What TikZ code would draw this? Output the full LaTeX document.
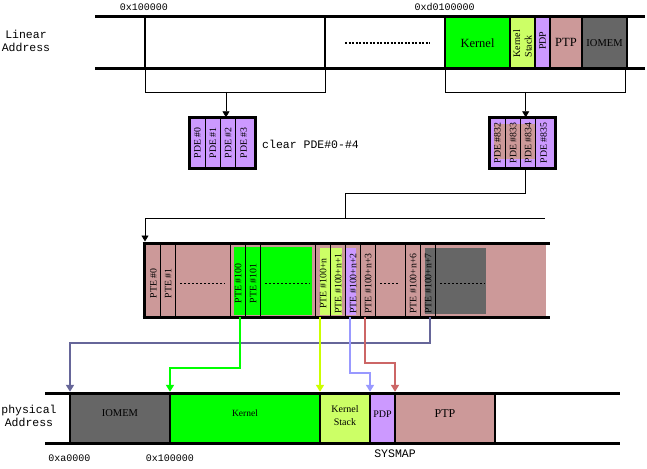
\documentclass[tikz,border=0pt]{standalone}
\usepackage{fontspec}
\setmainfont{Liberation Serif}
\newfontfamily\monofnt{Liberation Mono}
\usetikzlibrary{arrows.meta,calc}
\definecolor{kgreen}{HTML}{00FF00}
\definecolor{kstack}{HTML}{CCFF66}
\definecolor{pdpc}{HTML}{CC99FF}
\definecolor{ptpc}{HTML}{CC9999}
\definecolor{iomc}{HTML}{666666}
\definecolor{arblue}{HTML}{666699}
\definecolor{arlblue}{HTML}{9999FF}
\definecolor{arred}{HTML}{CC6666}
\definecolor{aryel}{HTML}{CCFF00}
\definecolor{argreen}{HTML}{00FF00}
\newcommand{\fs}[1]{\fontsize{#1}{#1}\selectfont}
\begin{document}
\begin{tikzpicture}[x=1pt,y=-1pt,
  blk/.style={draw, line width=2.5pt, inner sep=0pt, outer sep=0pt, anchor=north west},
  bar/.style={line width=3pt},
  pcell/.style={draw, line width=0.8pt, inner sep=0pt, outer sep=0pt},
  plab/.style={rotate=90, inner sep=0pt, font=\fs{9.8}},
  mono/.style={font=\monofnt\fontsize{11.5}{13.5}\selectfont, inner sep=0pt, align=center},
  hex/.style={font=\monofnt\fs{10}, inner sep=0pt},
  conn/.style={line width=0.8pt},
  tip/.style={-{Triangle[width=7pt,length=6pt]}},
  carr/.style={line width=2pt, -{Triangle[width=8pt,length=7pt]}, shorten >=1.2pt},
  dots/.style={line width=1pt, dash pattern=on 2pt off 2pt},
]
\useasboundingbox (0,0) rectangle (647,468);

% ---------------- Linear address bar ----------------
\node[blk, fill=white, minimum width=180, minimum height=51.5] (b100) at (145,17) {};
\node[blk, fill=kgreen, minimum width=65, minimum height=51.5] (tk) at (445,17) {};
\node[blk, fill=kstack, minimum width=25, minimum height=51.5] (tks) at (510,17) {};
\node[blk, fill=pdpc, minimum width=15, minimum height=51.5] (tpdp) at (535,17) {};
\node[blk, fill=ptpc, minimum width=32, minimum height=51.5] (tptp) at (550,17) {};
\node[blk, fill=iomc, minimum width=45, minimum height=51.5] (tio) at (582,17) {};
\node[inner sep=0pt, font=\fs{12.5}] (tkl) at (tk.center) {Kernel};
\node[inner sep=0pt, rotate=90, align=left, font=\fontsize{10}{11.5}\selectfont] (tksl) at ($(tks.center)+(0,1)$) {Kernel\\Stack};
\node[inner sep=0pt, rotate=90, font=\fs{10}] (tpdpl) at ($(tpdp.center)+(0,-2)$) {PDP};
\node[inner sep=0pt, font=\fs{12.5}] (tptpl) at (tptp.center) {PTP};
\node[inner sep=0pt, font=\fs{10.5}] (tiol) at (tio.center) {IOMEM};
\draw[bar] (95,17) -- (645,17);
\draw[bar] (95,68.5) -- (645,68.5);
\draw[line width=2pt, dash pattern=on 2pt off 1.5pt] (345,43) -- (430,43);

\node[hex] (lA) at (144,7) {0x100000};
\node[hex] (lB) at (444.5,7) {0xd0100000};
\node[mono] (lin) at (26,41) {Linear\\Address};

% ---------------- PDE boxes ----------------
\node[blk, fill=pdpc, minimum width=66.4, minimum height=51] (pdeL) at (189.3,117.3) {};
\node[blk, fill=pdpc, minimum width=66.4, minimum height=51] (pdeR) at (489.3,117.3) {};
\fill[ptpc] (494,124) rectangle (535,159);

\node[pcell, minimum width=16, minimum height=51] (pl0) at (197.3,142.8) {};
\node[pcell, minimum width=15.4, minimum height=51] (pl1) at (213,142.8) {};
\node[pcell, minimum width=15, minimum height=51] (pl2) at (228.2,142.8) {};
\node[pcell, minimum width=20, minimum height=51] (pl3) at (245.7,142.8) {};
\node[plab] (tl0) at (pl0.center) {PDE \#0};
\node[plab] (tl1) at (pl1.center) {PDE \#1};
\node[plab] (tl2) at (pl2.center) {PDE \#2};
\node[plab] (tl3) at ($(pl3.center)+(-2,0)$) {PDE \#3};

\node[pcell, minimum width=16.4, minimum height=51] (pr0) at (497.5,142.8) {};
\node[pcell, minimum width=15, minimum height=51] (pr1) at (513.2,142.8) {};
\node[pcell, minimum width=15, minimum height=51] (pr2) at (528.2,142.8) {};
\node[pcell, minimum width=20, minimum height=51] (pr3) at (545.7,142.8) {};
\node[plab] (tr0) at (pr0.center) {PDE \#832};
\node[plab] (tr1) at (pr1.center) {PDE \#833};
\node[plab] (tr2) at (pr2.center) {PDE \#834};
\node[plab] (tr3) at ($(pr3.center)+(-2,0)$) {PDE \#835};
\draw[line width=2.5pt] (pdeL.north west) rectangle (pdeL.south east);
\draw[line width=2.5pt] (pdeR.north west) rectangle (pdeR.south east);

\node[mono, anchor=west] (clr) at (262,144) {clear PDE\#0-\#4};

% brackets
\draw[conn] (b100.south west) -- ++(0,23.5) -| (b100.south east);
\coordinate (bl) at (226,92);
\draw[conn,tip] (bl) -- (bl |- pdeL.north);
\draw[conn] (tk.south west) -- ++(0,23.5) -| ($(tio.south east)+(-1.3,0)$);
\coordinate (br) at (525.7,92);
\draw[conn,tip] (br) -- (br |- pdeR.north);

% ---------------- PTE strip ----------------
\node[fill=ptpc, inner sep=0pt, outer sep=0pt, minimum width=402, minimum height=74, anchor=north west] (strip) at (144,243) {};
\fill[kgreen] (234,247) rectangle (311.7,315);
\fill[kstack] (320,247.5) rectangle (341.5,314.5);
\fill[pdpc] (346,247.5) rectangle (355.5,314.5);
\fill[iomc] (425,247.5) rectangle (485.7,314);

\node[pcell, minimum width=16.7, minimum height=74] (c0) at (152.35,280) {};
\node[pcell, minimum width=15, minimum height=74] (c1) at (168.2,280) {};
\node[pcell, minimum width=15, minimum height=74] (c100) at (238.2,280) {};
\node[pcell, minimum width=15, minimum height=74] (c101) at (253.2,280) {};
\node[pcell, minimum width=15, minimum height=74] (cn) at (323.2,280) {};
\node[pcell, minimum width=15, minimum height=74] (cn1) at (338.2,280) {};
\node[pcell, minimum width=15, minimum height=74] (cn2) at (353.2,280) {};
\node[pcell, minimum width=15, minimum height=74] (cn3) at (368.2,280) {};
\node[pcell, minimum width=15, minimum height=74] (cn6) at (413.2,280) {};
\node[pcell, minimum width=15, minimum height=74] (cn7) at (428.2,280) {};

\node[plab] (l0) at ($(c0.center)+(1,3.5)$) {PTE \#0};
\node[plab] (l1) at ($(c1.center)+(0,3.5)$) {PTE \#1};
\node[plab] (l100) at ($(c100.center)+(0,3.5)$) {PTE \#100};
\node[plab] (l101) at ($(c101.center)+(0,3.5)$) {PTE \#101};
\node[plab] (ln) at ($(cn.center)+(0,3.5)$) {PTE \#100+n};
\node[plab] (ln1) at ($(cn1.center)+(0,3.5)$) {PTE \#100+n+1};
\node[plab] (ln2) at ($(cn2.center)+(0,3.5)$) {PTE \#100+n+2};
\node[plab] (ln3) at ($(cn3.center)+(0,3.5)$) {PTE \#100+n+3};
\node[plab] (ln6) at ($(cn6.center)+(0,3.5)$) {PTE \#100+n+6};
\node[plab] (ln7) at ($(cn7.center)+(0,3.5)$) {PTE \#100+n+7};

\draw[dots] (180,283.3) -- (225,283.3);
\draw[dots] (265,283.3) -- (310,283.3);
\draw[dots] (380,283.3) -- (398,283.3);
\draw[dots] (440,283.3) -- (485,283.3);

\draw[bar] (142.5,243) -- (550,243);
\draw[bar] (142.5,317) -- (550,317);
\draw[bar] (144,243) -- (144,317);

% PDE -> PTE connector
\coordinate (jn) at (345.7,218.3);
\draw[conn] ($(pdeR.south)+(3.2,0)$) -- ++(0,25) -| (jn);
\coordinate (busL) at (145,218.3);
\coordinate (busR) at (545,218.3);
\draw[conn] (busL) -- (busR);
\draw[conn,tip] (busL) -- ($(busL |- strip.north)+(0,-1.5)$);

% ---------------- physical address bar ----------------
\node[blk, fill=iomc, minimum width=100, minimum height=50] (bio) at (70,393) {};
\node[blk, fill=kgreen, minimum width=150, minimum height=50] (bk) at (170,393) {};
\node[blk, fill=kstack, minimum width=50, minimum height=50] (bks) at (320,393) {};
\node[blk, fill=pdpc, minimum width=25, minimum height=50] (bpdp) at (370,393) {};
\node[blk, fill=ptpc, minimum width=100, minimum height=50] (bptp) at (395,393) {};
\node[inner sep=0pt, font=\fs{10.5}] (biol) at ($(bio.center)+(0,-4.5)$) {IOMEM};
\node[inner sep=0pt, font=\fs{9.5}] (bkl) at ($(bk.center)+(0,-4.5)$) {Kernel};
\node[inner sep=0pt, align=center, font=\fontsize{10}{12.4}\selectfont] (bksl) at ($(bks.center)+(0,-2.5)$) {Kernel\\Stack};
\node[inner sep=0pt, font=\fs{10}] (bpdpl) at ($(bpdp.center)+(0,-3.5)$) {PDP};
\node[inner sep=0pt, font=\fs{12}] (bptpl) at ($(bptp.center)+(0,-4.5)$) {PTP};
\draw[bar] (45,393) -- (620,393);
\draw[bar] (45,443) -- (620,443);

\node[mono] (phys) at (29,416) {physical\\Address};
\node[hex] (pa) at (69.5,457.7) {0xa0000};
\node[hex] (pb) at (170,457.7) {0x100000};
\node[mono] (sys) at (395,454) {SYSMAP};

% coloured mapping arrows
\draw[carr, arblue] ($(cn7.south)+(1.8,0)$) -- ++(0,26) -| (bio.north west);
\draw[carr, argreen] ($(c100.south)+(1.8,0)$) -- ++(0,51) -| (bk.north west);
\draw[carr, aryel] (bks.north west |- cn.south) -- (bks.north west);
\draw[carr, arlblue] ($(cn2.south)+(-3.2,0)$) -- ++(0,56) -| (bpdp.north west);
\draw[carr, arred] ($(cn3.south)+(-3.5,0)$) -- ++(0,46) -| (bptp.north west);
\end{tikzpicture}
\end{document}
